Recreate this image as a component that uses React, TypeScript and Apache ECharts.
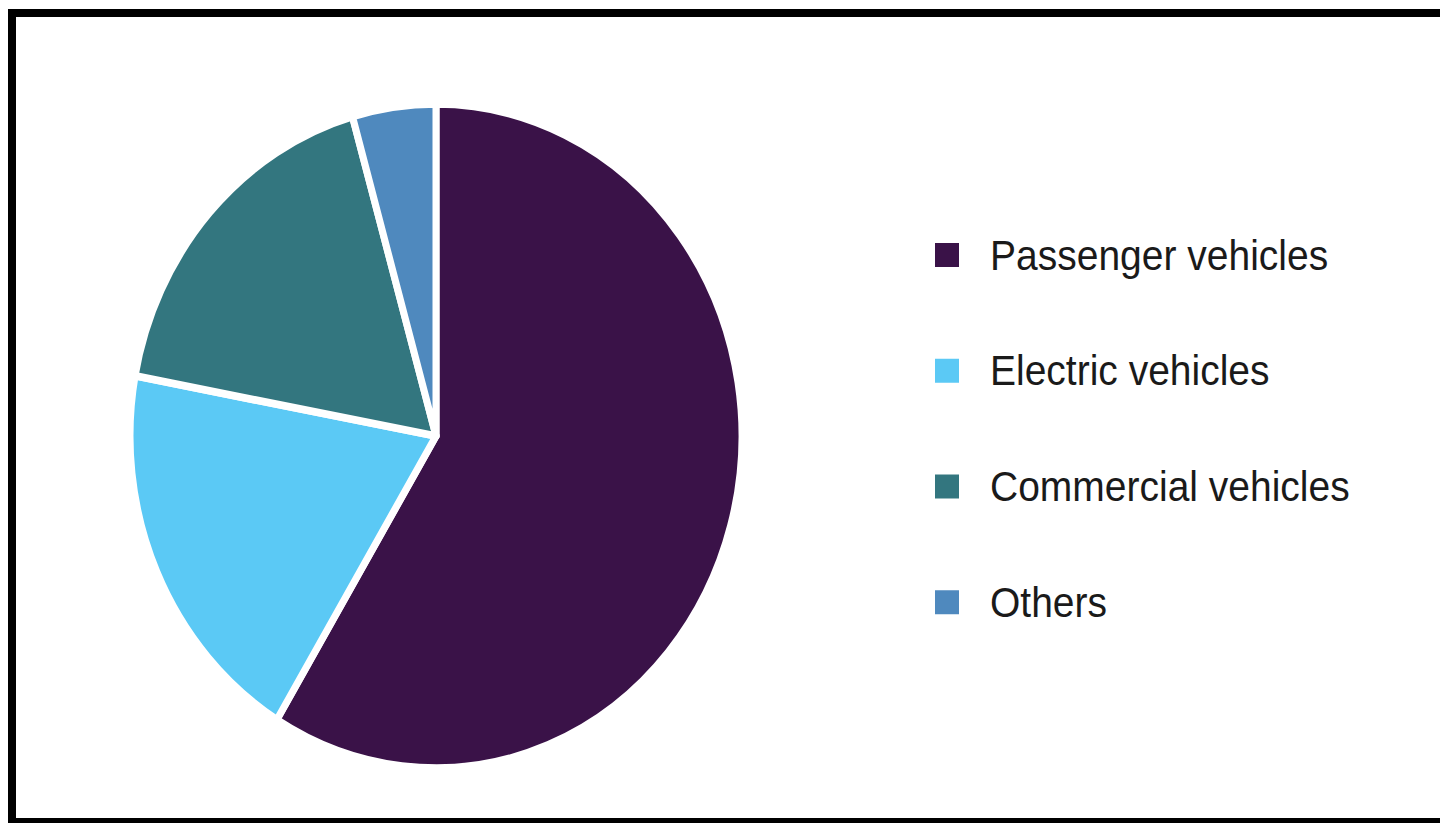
import React, { useEffect, useRef } from "react";
import * as echarts from "echarts";

const categories: string[] = [
  "Passenger vehicles",
  "Electric vehicles",
  "Commercial vehicles",
  "Others",
];
const shares: number[] = [58.7, 19.2, 17.7, 4.4];
const colors: string[] = ["#3A1248", "#5BC9F5", "#33767F", "#4F89BE"];

const W = 1440;
const H = 823;
const SY = 1.085; // vertical stretch of the reference

export default function App() {
  const ref = useRef<HTMLDivElement>(null);

  useEffect(() => {
    if (!ref.current) return;
    const chart = echarts.init(ref.current, null, { renderer: "svg" });
    const data = categories.map((name, i) => ({
      name,
      value: shares[i],
      itemStyle: { color: colors[i] },
    }));
    chart.setOption({
      animation: false,
      backgroundColor: "transparent",
      legend: {
        orient: "vertical",
        left: 933,
        top: 215,
        padding: 0,
        icon: "rect",
        itemWidth: 26,
        itemHeight: 24,
        itemGap: 66.7,
        selectedMode: false,
        data: categories,
        textStyle: {
          fontFamily: "'Liberation Sans', Arial, sans-serif",
          fontSize: 39,
          lineHeight: 40,
          color: "#1a1a1a",
          padding: [0, 0, 0, 25],
        },
      },
      series: [
        {
          type: "pie",
          center: [436, 436 / SY],
          radius: [0, 306],
          startAngle: 90,
          clockwise: true,
          label: { show: false },
          labelLine: { show: false },
          emphasis: { disabled: true },
          itemStyle: { borderColor: "#ffffff", borderWidth: 7 },
          data,
        },
      ],
    });
    return () => chart.dispose();
  }, []);

  return (
    <div
      style={{
        position: "fixed",
        left: 0,
        top: 0,
        width: W,
        height: H,
        overflow: "hidden",
        background: "#ffffff",
      }}
    >
      <div
        ref={ref}
        style={{
          position: "absolute",
          left: 0,
          top: 0,
          width: W,
          height: H / SY,
          transform: `scaleY(${SY})`,
          transformOrigin: "0 0",
        }}
      />
      <div
        style={{
          position: "absolute",
          left: 8,
          top: 9,
          width: 1500,
          height: 801,
          borderLeft: "8px solid #000",
          borderTop: "8px solid #000",
          borderBottom: "8px solid #000",
          boxSizing: "content-box",
          pointerEvents: "none",
        }}
      />
    </div>
  );
}
